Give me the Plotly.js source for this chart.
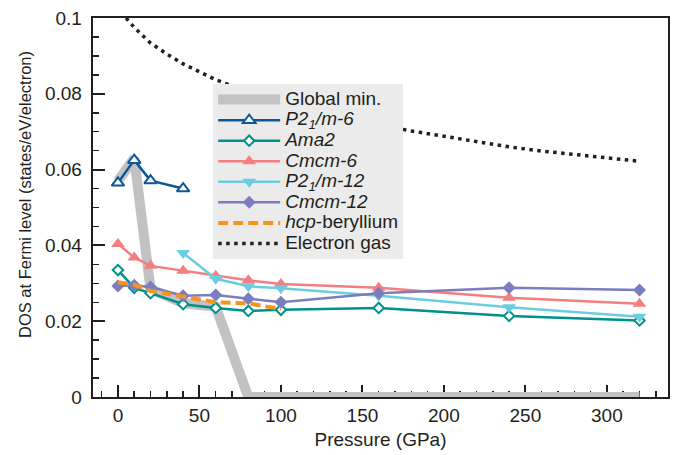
<!DOCTYPE html>
<html>
<head>
<meta charset="utf-8">
<script src="https://cdn.plot.ly/plotly-3.0.1.min.js"></script>
<style>html,body{margin:0;padding:0;background:#fff;}</style>
</head>
<body>
<div id="chart" style="width:673px;height:455px;"></div>
<script>
// ---- data ----
const pressure = [0, 10, 20, 40, 60, 80, 100, 160, 240, 320];
const globalMin = [0.0570, 0.0630, 0.0285, 0.0248, 0.0238, 0, 0, 0, 0, 0];
const p21m6Pressure = [0, 10, 20, 40];
const p21m6 = [0.0565, 0.0625, 0.0571, 0.0550];
const ama2 = [0.0335, 0.0288, 0.0274, 0.0245, 0.0235, 0.0227, 0.0230, 0.0235, 0.0214, 0.0202];
const cmcm6 = [0.0404, 0.0368, 0.0346, 0.0333, 0.0320, 0.0308, 0.0298, 0.0288, 0.0262, 0.0246];
const p21m12Pressure = [40, 60, 80, 100, 160, 240, 320];
const p21m12 = [0.0380, 0.0312, 0.0292, 0.0287, 0.0267, 0.0237, 0.0212];
const cmcm12 = [0.0293, 0.0295, 0.0290, 0.0267, 0.0269, 0.0259, 0.0250, 0.0274, 0.0288, 0.0282];
const hcpPressure = [0, 10, 20, 40, 60, 80, 100];
const hcp = [0.0303, 0.0296, 0.0280, 0.0265, 0.0250, 0.0247, 0.0232];
const egasPressure = [5, 10, 20, 30, 40, 50, 60, 70, 80, 100, 120, 140, 160, 180, 200, 220, 240, 260, 280, 300, 320];
const egas = [0.1000, 0.0975, 0.0934, 0.0905, 0.0879, 0.0857, 0.0837, 0.0821, 0.0806, 0.0778, 0.0754, 0.0735, 0.0718, 0.0702, 0.0688, 0.0674, 0.0660, 0.0649, 0.0640, 0.0631, 0.0622];
const seriesNames = ['Global min.', '<i>P</i><i>2<sub>1</sub>/m-6</i>', '<i>Ama2</i>', '<i>Cmcm-6</i>',
  '<i>P</i><i>2<sub>1</sub>/m-12</i>', '<i>Cmcm-12</i>', '<i>hcp</i>-beryllium', 'Electron gas'];
const xTickVals = [0, 50, 100, 150, 200, 250, 300];
const yTickVals = [0, 0.02, 0.04, 0.06, 0.08, 0.1];
const yTickText = ['0', '0.02', '0.04', '0.06', '0.08', '0.1'];
const xTitle = 'Pressure (GPa)';
const yTitle = 'DOS at Fermi level (states/eV/electron)';

const ink = '#231f20';
const big = s => '<span style="font-size:19px">' + s + '</span>';

const traces = [
  {x: pressure, y: globalMin, name: big(seriesNames[0]), mode: 'lines',
   line: {color: '#c2c2c4', width: 10}},
  {x: p21m6Pressure, y: p21m6, name: big(seriesNames[1]), mode: 'lines+markers',
   line: {color: '#0e5797', width: 2.5},
   marker: {symbol: 'triangle-up', size: 11, color: '#ffffff', line: {color: '#0e5797', width: 2}}},
  {x: pressure, y: ama2, name: big(seriesNames[2]), mode: 'lines+markers',
   line: {color: '#00918c', width: 2.5},
   marker: {symbol: 'diamond', size: 8, color: '#ffffff', line: {color: '#00918c', width: 2}}},
  {x: pressure, y: cmcm6, name: big(seriesNames[3]), mode: 'lines+markers',
   line: {color: '#f37f80', width: 2.5},
   marker: {symbol: 'triangle-up', size: 12, color: '#f37f80'}},
  {x: p21m12Pressure, y: p21m12, name: big(seriesNames[4]), mode: 'lines+markers',
   line: {color: '#6dcde0', width: 2.5},
   marker: {symbol: 'triangle-down', size: 12, color: '#6dcde0'}},
  {x: pressure, y: cmcm12, name: big(seriesNames[5]), mode: 'lines+markers',
   line: {color: '#7b7dbf', width: 2.5},
   marker: {symbol: 'diamond', size: 10, color: '#7b7dbf'}},
  {x: hcpPressure, y: hcp, name: big(seriesNames[6]), mode: 'lines',
   line: {color: '#f7941d', width: 4, dash: '10px,5px'}},
  {x: egasPressure, y: egas, name: big(seriesNames[7]), mode: 'lines',
   line: {color: ink, width: 3.5, dash: '3.5px,4.5px'}}
];

const axisCommon = {
  showline: true, linewidth: 2, linecolor: ink, mirror: true,
  showgrid: false, zeroline: false, ticks: 'inside', tickwidth: 2, tickcolor: ink,
  layer: 'below traces', tickfont: {family: 'Liberation Sans, Arial, sans-serif', size: 19, color: ink}
};

const layout = {
  width: 673, height: 455,
  margin: {l: 93, r: 5, t: 18, b: 58},
  paper_bgcolor: '#ffffff', plot_bgcolor: '#ffffff',
  font: {family: 'Liberation Sans, Arial, sans-serif', color: ink},
  showlegend: true,
  legend: {
    x: 0.209, y: 0.825, xanchor: 'left', yanchor: 'top',
    bgcolor: '#ebebeb', borderwidth: 0, itemwidth: 62,
    font: {size: 13.5, color: ink}, tracegroupgap: 0
  },
  xaxis: Object.assign({}, axisCommon, {
    range: [-15.3, 337.5], tickmode: 'array', tickvals: xTickVals, ticklen: 12,
    minor: {dtick: 10, tick0: 0, ticks: 'inside', ticklen: 6, tickwidth: 1.5, tickcolor: ink},
    title: {text: xTitle, font: {size: 19, color: ink}, standoff: 8}
  }),
  yaxis: Object.assign({}, axisCommon, {
    range: [0, 0.1], tickmode: 'array', tickvals: yTickVals,
    ticktext: yTickText.map(t => t + '\u00a0'),
    ticklen: 12,
    minor: {dtick: 0.005, tick0: 0, ticks: 'inside', ticklen: 6, tickwidth: 1.5, tickcolor: ink}
  }),
  annotations: [{
    text: yTitle, xref: 'paper', yref: 'paper', x: -0.1183, y: 0.5356,
    xanchor: 'center', yanchor: 'middle', textangle: -90, showarrow: false,
    font: {size: 16.5, color: ink}
  }]
};

Plotly.newPlot('chart', traces, layout, {displayModeBar: false, staticPlot: true});
</script>
</body>
</html>
